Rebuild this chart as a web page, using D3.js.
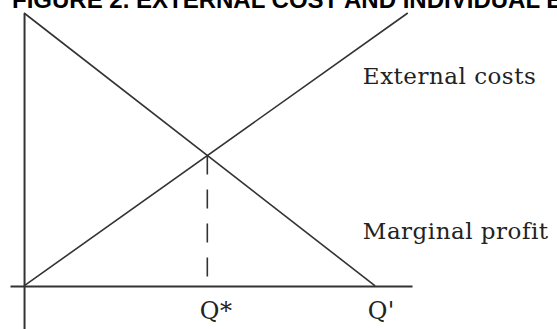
<!DOCTYPE html>
<html>
<head>
<meta charset="utf-8">
<script src="https://cdn.jsdelivr.net/npm/d3@7"></script>
<style>
  body { margin: 0; background: #fff; }
  svg { display: block; }
  .curve { fill: none; stroke: #333; stroke-width: 1.6; }
  .axis path { stroke: #333; stroke-width: 2; }
  .label { font-family: "DejaVu Serif", serif; font-size: 23px; letter-spacing: 0.5px; fill: #222; }
</style>
</head>
<body>
<svg width="557" height="329"></svg>
<script>
// quantity on x, value on y (0..100)
const marginalProfit = [{q: 0, v: 100}, {q: 100, v: 0}];
const externalCosts = [{q: 0, v: 0}, {q: 109.3, v: 100}];
const qStar = 52.2;
const qTicks = [52.2, 100];
const qTickLabels = ["Q*", "Q'"];
const curveLabels = ["External costs", "Marginal profit"];
const curveLabelValues = [74, 17];

var svg = d3.select("svg"),
    width = +svg.attr("width"),
    height = +svg.attr("height");

var x = d3.scaleLinear()
    .domain([-4, 110.5])
    .range([10, 412]);

var y = d3.scaleLinear()
    .domain([-15.8, 100])
    .range([329, 13]);

var line = d3.line()
    .x(d => x(d.q))
    .y(d => y(d.v));

// title, cut off at the top of the picture (as in the reference)
svg.append("text")
    .attr("x", 12)
    .attr("y", 8)
    .attr("style", "font-family: 'Liberation Sans', Arial, sans-serif; font-weight: bold; font-size: 24px; fill: #000")
    .text("FIGURE 2. EXTERNAL COST AND INDIVIDUAL E");

// axes
var xAxis = d3.axisBottom(x)
    .tickValues(qTicks)
    .tickFormat((d, i) => qTickLabels[i])
    .tickSize(0)
    .tickSizeOuter(0)
    .tickPadding(16);

var gX = svg.append("g")
    .attr("class", "axis")
    .attr("transform", `translate(0,${y(0)})`)
    .call(xAxis);

gX.selectAll("text")
    .attr("class", "label")
    .attr("font-size", null)
    .attr("font-family", null)
    .attr("text-anchor", "start")
    .attr("dx", -8)
    .style("font-size", "24px");

var yAxis = d3.axisLeft(y)
    .tickValues([])
    .tickSizeOuter(0);

svg.append("g")
    .attr("class", "axis")
    .attr("transform", `translate(${x(0)},0)`)
    .call(yAxis);

// curves
svg.append("path")
    .datum(marginalProfit)
    .attr("class", "curve")
    .attr("d", line);

svg.append("path")
    .datum(externalCosts)
    .attr("class", "curve")
    .attr("d", line);

// dashed drop line at Q*
svg.append("line")
    .attr("class", "curve")
    .attr("x1", x(qStar))
    .attr("x2", x(qStar))
    .attr("y1", y(100 - qStar))
    .attr("y2", y(0))
    .attr("stroke-dasharray", "19,15");

svg.selectAll(".curve-label")
    .data(curveLabels)
    .join("text")
    .attr("class", "label curve-label")
    .attr("x", x(96.5))
    .attr("y", (d, i) => y(curveLabelValues[i]))
    .text(d => d);
</script>
</body>
</html>
